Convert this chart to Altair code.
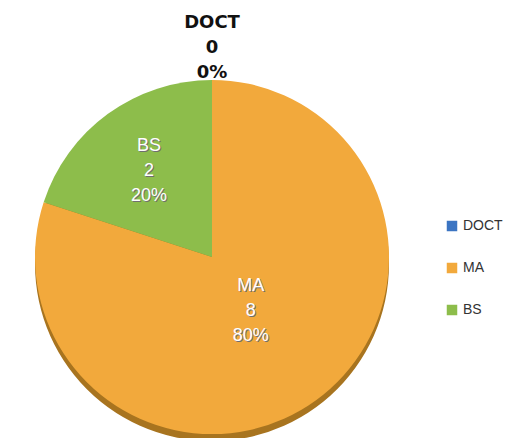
import json
import altair as alt
import pandas as pd

categories = ["DOCT", "MA", "BS"]
counts = [0, 8, 2]
colors = ["#3B74C2", "#F2A93C", "#8DBD4B"]

df = pd.DataFrame({"cat": categories, "value": counts})

CX, CY, R = 204, 249, 177

base = alt.Chart(df).transform_joinaggregate(
    total="sum(value)"
).transform_calculate(
    idx=f"indexof({json.dumps(categories)}, datum.cat)",
    pct="round(datum.value / datum.total * 100) + '%'",
    label="datum.cat + '\\n' + datum.value + '\\n' + datum.pct",
    lr="datum.cat == 'MA' ? 66 : (datum.cat == 'BS' ? 107 : 234)",
)

arcs = base.encode(
    theta=alt.Theta("value:Q", stack=True),
    order=alt.Order("idx:Q"),
    x=alt.value(CX),
    y=alt.value(CY),
)

depth = arcs.mark_arc(radius=R, yOffset=7, color="#A8741F", strokeWidth=0)

pie = arcs.mark_arc(radius=R, strokeWidth=0).encode(
    color=alt.Color(
        "cat:N",
        scale=alt.Scale(domain=categories, range=colors),
        sort=categories,
        legend=alt.Legend(
            title=None,
            orient="none",
            legendX=437,
            legendY=211,
            symbolType="square",
            symbolSize=110,
            symbolStrokeWidth=0,
            labelFontSize=14,
            labelFont="Liberation Sans",
            labelColor="#333333",
            rowPadding=28,
            labelOffset=4,
        ),
    )
)

# label angle: middle of each slice (cumulative sum in category order)
txt = base.transform_window(
    cum="sum(value)", sort=[alt.SortField("idx")], frame=[None, 0]
).transform_calculate(
    mid="(datum.cum - datum.value / 2) / datum.total * 2 * PI"
).encode(
    theta=alt.Theta("mid:Q", scale=None, stack=None),
    radius=alt.Radius("lr:Q", scale=None),
    text="label:N",
    x=alt.value(CX),
    y=alt.value(CY),
)

inner = txt.transform_filter("datum.cat != 'DOCT'")

shadow = inner.mark_text(
    lineBreak="\n", lineHeight=25, fontSize=18, font="Liberation Sans",
    color="#6f6f6f", dx=1, dy=-23, baseline="middle", align="center",
)

labels = inner.mark_text(
    lineBreak="\n", lineHeight=25, fontSize=18, font="Liberation Sans",
    color="#ffffff", dy=-24, baseline="middle", align="center",
)

outer = txt.transform_filter("datum.cat == 'DOCT'").mark_text(
    lineBreak="\n", lineHeight=25, fontSize=18, font="DejaVu Sans",
    fontWeight="bold", color="#111111", baseline="middle", align="center",
)

chart = alt.layer(depth, pie, shadow, labels, outer).properties(
    width=496,
    height=430,
    padding=0,
    autosize=alt.AutoSizeParams(type="none"),
    background="white",
).configure_view(stroke=None)

chart.save("out.html", embed_options={"renderer": "svg", "actions": False})
